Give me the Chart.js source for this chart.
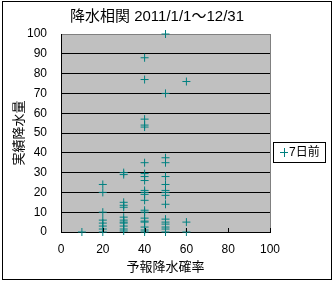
<!DOCTYPE html>
<html><head><meta charset="utf-8">
<script src="https://cdn.jsdelivr.net/npm/chart.js@4/dist/chart.umd.min.js"></script>
<style>html,body{margin:0;padding:0;background:#fff}canvas{display:block}</style>
</head><body>
<canvas id="c" width="333" height="282"></canvas>
<script>
const chartTitle = '降水相関 2011/1/1～12/31';
const xAxisTitle = '予報降水確率';
const yAxisTitle = '実績降水量';
const seriesName = '7日前';
// forecast probability (%) categories
const probabilities = [10, 20, 30, 40, 50, 60];
// observed rainfall (mm) at each probability
const rainAt10 = [0];
const rainAt20 = [24, 20, 10, 6, 4.5, 3, 1.5, 0];
const rainAt30 = [30, 29, 15, 13.5, 12.5, 7.5, 6, 5, 4.5, 3, 1.5, 0.5];
const rainAt40 = [88, 77, 57, 54, 53, 35, 29.5, 28, 26, 21, 20, 19, 16, 11, 10, 7, 5.5, 5, 2.5, 1, 0];
const rainAt50 = [100, 70, 37.5, 35, 28, 24, 21, 20, 18.5, 14, 6.5, 5, 4, 2.5, 1.5, 0];
const rainAt60 = [76, 5, 0];
const rainByProb = [rainAt10, rainAt20, rainAt30, rainAt40, rainAt50, rainAt60];

const points = [];
probabilities.forEach((p, i) => rainByProb[i].forEach(v => points.push({x: p, y: v})));

const FONT = "'Liberation Sans', Arial, 'Noto Sans CJK JP', sans-serif";
const TEAL = '#008080';

const decor = {
  id: 'decor',
  beforeDraw(chart) {
    const ctx = chart.ctx, a = chart.chartArea;
    ctx.save();
    ctx.fillStyle = '#fff';
    ctx.fillRect(0, 0, chart.width, chart.height);
    ctx.fillStyle = '#C0C0C0';
    ctx.fillRect(a.left, a.top, a.right - a.left, a.bottom - a.top);
    ctx.restore();
  },
  afterDraw(chart) {
    const ctx = chart.ctx, a = chart.chartArea;
    ctx.save();
    ctx.strokeStyle = '#808080';
    ctx.lineWidth = 1;
    ctx.beginPath();
    ctx.moveTo(Math.round(a.right) + 0.5, a.top);
    ctx.lineTo(Math.round(a.right) + 0.5, a.bottom);
    ctx.stroke();
    const xs = chart.scales.x;
    ctx.strokeStyle = '#000';
    [20, 40, 60, 80, 100].forEach(v => {
      const px = Math.round(xs.getPixelForValue(v)) + 0.5;
      ctx.beginPath();
      ctx.moveTo(px, a.bottom);
      ctx.lineTo(px, a.bottom - 4);
      ctx.stroke();
    });
    ctx.strokeStyle = '#000';
    ctx.strokeRect(2.5, 1.5, 329, 278);
    ctx.fillStyle = '#000';
    ctx.font = '15px ' + FONT;
    ctx.textAlign = 'center';
    ctx.textBaseline = 'middle';
    ctx.fillText(chartTitle, 157, 17);
    ctx.fillStyle = '#fff';
    ctx.fillRect(273.5, 142.5, 52, 20);
    ctx.strokeRect(273.5, 142.5, 52, 20);
    ctx.strokeStyle = TEAL;
    ctx.beginPath();
    ctx.moveTo(280, 152.5); ctx.lineTo(288, 152.5);
    ctx.moveTo(284.5, 148); ctx.lineTo(284.5, 157);
    ctx.stroke();
    ctx.fillStyle = '#000';
    ctx.font = '12px ' + FONT;
    ctx.textAlign = 'left';
    ctx.fillText(seriesName, 289, 153);
    ctx.restore();
  }
};

new Chart(document.getElementById('c'), {
  type: 'scatter',
  data: {
    datasets: [{
      label: seriesName,
      data: points,
      pointStyle: 'cross',
      pointRadius: 4,
      pointHoverRadius: 4,
      borderColor: TEAL,
      backgroundColor: TEAL,
      borderWidth: 1,
      clip: false
    }]
  },
  options: {
    responsive: false,
    animation: false,
    devicePixelRatio: 1,
    layout: {padding: {left: 0, right: 63, top: 34, bottom: 0}},
    plugins: {legend: {display: false}, tooltip: {enabled: false}, title: {display: false}},
    scales: {
      x: {
        type: 'linear', min: 0, max: 100,
        afterFit: s => { s.height = 50; },
        ticks: {stepSize: 20, color: '#000', font: {size: 12, family: FONT}, padding: 10, maxRotation: 0},
        grid: {display: true, drawOnChartArea: false, drawTicks: false},
        border: {display: true, color: '#000', width: 1},
        title: {display: true, text: xAxisTitle, color: '#000', font: {size: 13, family: FONT}, padding: {top: 4, bottom: 7}}
      },
      y: {
        type: 'linear', min: 0, max: 100,
        afterFit: s => { s.width = 61; },
        ticks: {stepSize: 10, color: '#000', font: {size: 12, family: FONT}, padding: 14},
        grid: {color: c => (c.tick && c.tick.value === 100) ? '#808080' : '#000', lineWidth: 1, drawTicks: false},
        border: {display: true, color: '#000', width: 1},
        title: {display: true, text: yAxisTitle, color: '#000', font: {size: 13, family: FONT}, padding: {top: 12, bottom: 0}}
      }
    }
  },
  plugins: [decor]
});
</script>
</body></html>
